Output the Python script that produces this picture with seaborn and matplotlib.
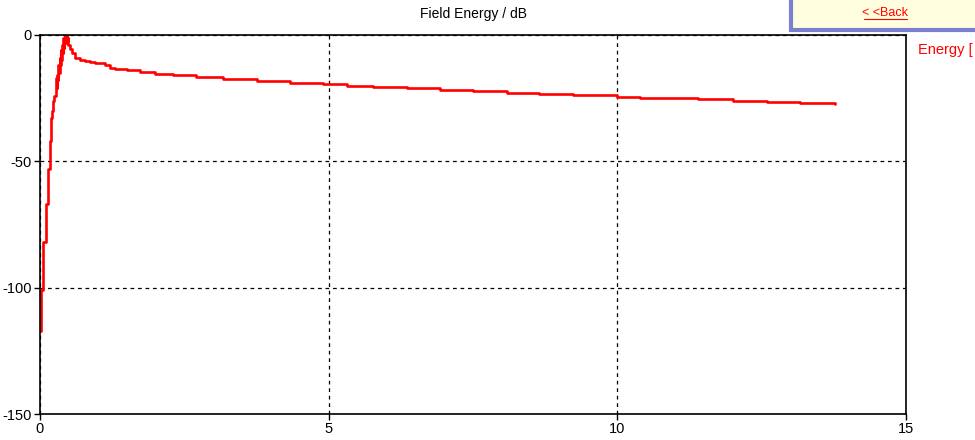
import matplotlib
matplotlib.use("Agg")
import matplotlib.pyplot as plt
import seaborn as sns
import pandas as pd
from matplotlib.patches import Rectangle
from matplotlib.lines import Line2D

# field energy curve (time, dB)
time = [0.0, 0.017, 0.025, 0.057, 0.06, 0.105, 0.11, 0.135, 0.14, 0.16, 0.165, 0.18,
        0.19, 0.21, 0.23, 0.25, 0.27, 0.28, 0.29, 0.30, 0.31, 0.32, 0.33, 0.34, 0.35,
        0.36, 0.37, 0.38, 0.39, 0.40, 0.41, 0.42, 0.43, 0.44, 0.45, 0.46, 0.47, 0.48,
        0.49, 0.52, 0.55, 0.61, 0.69, 0.78, 0.87, 0.95, 1.13, 1.21, 1.30, 1.50, 1.73,
        2.00, 2.30, 2.70, 3.17, 3.76, 4.33, 4.90, 5.32, 5.77, 6.35, 6.93, 7.50, 8.09,
        8.65, 9.23, 10.0, 10.39, 10.86, 11.4, 12.0, 12.6, 13.16, 13.77]
energy = [-117, -117, -101, -100, -82, -82, -67, -67, -53, -53, -42, -42,
          -33, -30, -26, -24, -23, -17, -21, -16, -18, -12, -15, -9, -12,
          -6, -10, -4, -7, -1, -5, -2, 0, -3, -1, 0, -2, -1,
          -4, -5.5, -7, -9, -10, -10.3, -10.5, -11, -12, -13, -13.3, -14, -14.8,
          -15.4, -16, -16.7, -17.4, -18.3, -19, -19.5, -20.2, -20.4, -21.1, -21.8, -22.3, -22.8,
          -23.2, -23.7, -24.4, -24.8, -25, -25.5, -26, -26.4, -26.8, -27.2]

x_ticks = [0, 5, 10, 15]
y_ticks = [-150, -100, -50, 0]

df = pd.DataFrame({"time": time, "energy": energy})

sns.set_style("white")
plt.rcParams['font.family'] = ['Liberation Sans', 'DejaVu Sans']
plt.rcParams['axes.unicode_minus'] = False

fig = plt.figure(figsize=(9.75, 4.4), dpi=100)
ax = fig.add_axes([40 / 975, 26 / 440, 866 / 975, 379 / 440])

sns.lineplot(data=df, x="time", y="energy", ax=ax, color="#ff0000", linewidth=1.9,
             sort=False, estimator=None, drawstyle="steps-post")

ax.set_xlim(0, 15)
ax.set_ylim(-150, 0)
ax.set_xticks(x_ticks)
ax.set_yticks(y_ticks)
ax.set_xlabel("")
ax.set_ylabel("")
ax.tick_params(axis="both", labelsize=10.5, length=4, width=1, color="black",
               direction="out", pad=2, labelcolor="black", bottom=True, left=True)
ax.grid(True, color="black", linestyle=(0, (3, 3)), linewidth=0.9)
for s in ax.spines.values():
    s.set_color("black")
    s.set_linewidth(1.2)

ax.set_title("Field Energy / dB", fontsize=10, pad=12, color="black")

# legend text at the right edge (cut by the window)
fig.text(918 / 975, 1 - 50 / 440, "Energy [", color="#ff0000", fontsize=10.5, va="center", ha="left")

# the "<<Back" box at the top right
box = Rectangle((791 / 975, 1 - 30 / 440), 190 / 975, 33 / 440, transform=fig.transFigure,
                facecolor="#ffffe0", edgecolor="#7b7fd0", linewidth=3, zorder=5)
fig.patches.append(box)
fig.text(885 / 975, 1 - 13 / 440, "< <Back", color="#ff0000", fontsize=9, ha="center",
         va="center", zorder=6)
fig.lines.append(Line2D([864 / 975, 907 / 975], [1 - 19.5 / 440, 1 - 19.5 / 440],
                        transform=fig.transFigure, color="#ff0000", linewidth=0.8, zorder=6))

fig.savefig("out.png", dpi=100)
